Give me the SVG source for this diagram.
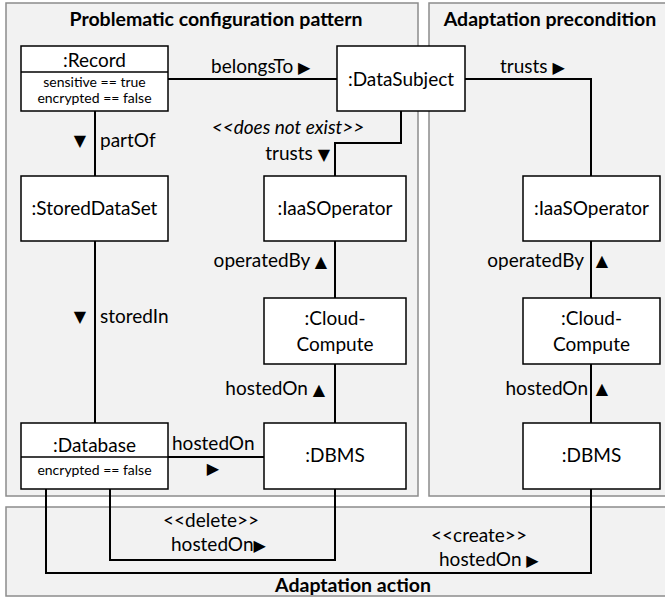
<svg xmlns="http://www.w3.org/2000/svg" width="665" height="599" viewBox="0 0 665 599">
<style>
.panel{fill:#f2f2f2;stroke:#8c8c8c;stroke-width:1.5}
.node{fill:#ffffff;stroke:#000;stroke-width:1.5}
.conn{fill:none;stroke:#000;stroke-width:2}
text{font-family:Lato,"Liberation Sans","DejaVu Sans",sans-serif;font-size:19px;fill:#000}
.title{font-weight:bold;font-size:19.5px}
.small{font-size:14px}
.c{text-anchor:middle}
.e{text-anchor:end}
.it{font-style:italic}
.tri{font-family:"DejaVu Sans",sans-serif;font-size:16px}
</style>
<rect width="665" height="599" fill="#ffffff"/>
<g id="panels">
<rect class="panel" x="6" y="3" width="412" height="493"/>
<rect class="panel" x="429" y="3" width="240" height="493"/>
<rect class="panel" x="6" y="507" width="665" height="89"/>
<text class="title c" x="216" y="26">Problematic configuration pattern</text>
<text class="title c" x="550" y="26">Adaptation precondition</text>
<text class="title c" x="353" y="592">Adaptation action</text>
</g>
<g id="connectors">
<path class="conn" d="M168 79H337"/>
<text x="211" y="73">belongsTo <tspan class="tri">▶</tspan></text>
<path class="conn" d="M465 79H591V176"/>
<text x="500" y="73">trusts <tspan class="tri">▶</tspan></text>
<path class="conn" d="M401 111V143H335V176"/>
<text class="it c" x="288" y="134">&lt;&lt;does not exist&gt;&gt;</text>
<text class="e" x="330" y="160">trusts <tspan class="tri">▼</tspan></text>
<path class="conn" d="M95 111V176"/>
<text class="tri c" x="80" y="146">▼</text>
<text x="100" y="147">partOf</text>
<path class="conn" d="M335 241V298"/>
<text class="e" x="327" y="267">operatedBy <tspan class="tri">▲</tspan></text>
<path class="conn" d="M335 364V423"/>
<text class="e" x="325" y="395">hostedOn <tspan class="tri">▲</tspan></text>
<path class="conn" d="M95 241V423"/>
<text class="tri c" x="80" y="322">▼</text>
<text x="100" y="323">storedIn</text>
<path class="conn" d="M168 457H264"/>
<text x="172" y="450">hostedOn</text>
<text class="tri c" x="213" y="474">▶</text>
<path class="conn" d="M591 241V298"/>
<text class="e" x="584" y="267">operatedBy</text>
<text class="tri c" x="602" y="266">▲</text>
<path class="conn" d="M591 364V423"/>
<text class="e" x="588" y="395">hostedOn</text>
<text class="tri c" x="602" y="394">▲</text>
<path class="conn" d="M110 489V560H335V489"/>
<text class="c" x="211" y="527">&lt;&lt;delete&gt;&gt;</text>
<text x="171" y="551">hostedOn<tspan class="tri">▶</tspan></text>
<path class="conn" d="M46 489V573H591V489"/>
<text class="c" x="479" y="542">&lt;&lt;create&gt;&gt;</text>
<text x="439" y="566">hostedOn <tspan class="tri">▶</tspan></text>
</g>
<g id="record">
<rect class="node" x="21" y="46" width="147" height="65"/>
<path class="conn" style="stroke-width:1.5" d="M21 72H168"/>
<text class="c" x="94.5" y="67">:Record</text>
<text class="small c" x="94.5" y="87">sensitive == true</text>
<text class="small c" x="94.5" y="103">encrypted == false</text>
</g>
<g id="datasubject">
<rect class="node" x="337" y="46" width="128" height="65"/>
<text class="c" x="401" y="86">:DataSubject</text>
</g>
<g id="storeddataset">
<rect class="node" x="21" y="176" width="147" height="65"/>
<text class="c" x="94.5" y="215">:StoredDataSet</text>
</g>
<g id="iaasoperator1">
<rect class="node" x="264" y="176" width="142" height="65"/>
<text class="c" x="335" y="215">:IaaSOperator</text>
</g>
<g id="cloudcompute1">
<rect class="node" x="264" y="298" width="142" height="66"/>
<text class="c" x="335" y="325">:Cloud-</text>
<text class="c" x="335" y="351">Compute</text>
</g>
<g id="database">
<rect class="node" x="21" y="423" width="147" height="66"/>
<path class="conn" style="stroke-width:1.5" d="M21 457H168"/>
<text class="c" x="94.5" y="452">:Database</text>
<text class="small c" x="94.5" y="475">encrypted == false</text>
</g>
<g id="dbms1">
<rect class="node" x="264" y="423" width="142" height="66"/>
<text class="c" x="335" y="462">:DBMS</text>
</g>
<g id="iaasoperator2">
<rect class="node" x="523" y="176" width="137" height="65"/>
<text class="c" x="591.5" y="215">:IaaSOperator</text>
</g>
<g id="cloudcompute2">
<rect class="node" x="523" y="298" width="137" height="66"/>
<text class="c" x="591.5" y="325">:Cloud-</text>
<text class="c" x="591.5" y="351">Compute</text>
</g>
<g id="dbms2">
<rect class="node" x="523" y="423" width="137" height="66"/>
<text class="c" x="591.5" y="462">:DBMS</text>
</g>
</svg>
